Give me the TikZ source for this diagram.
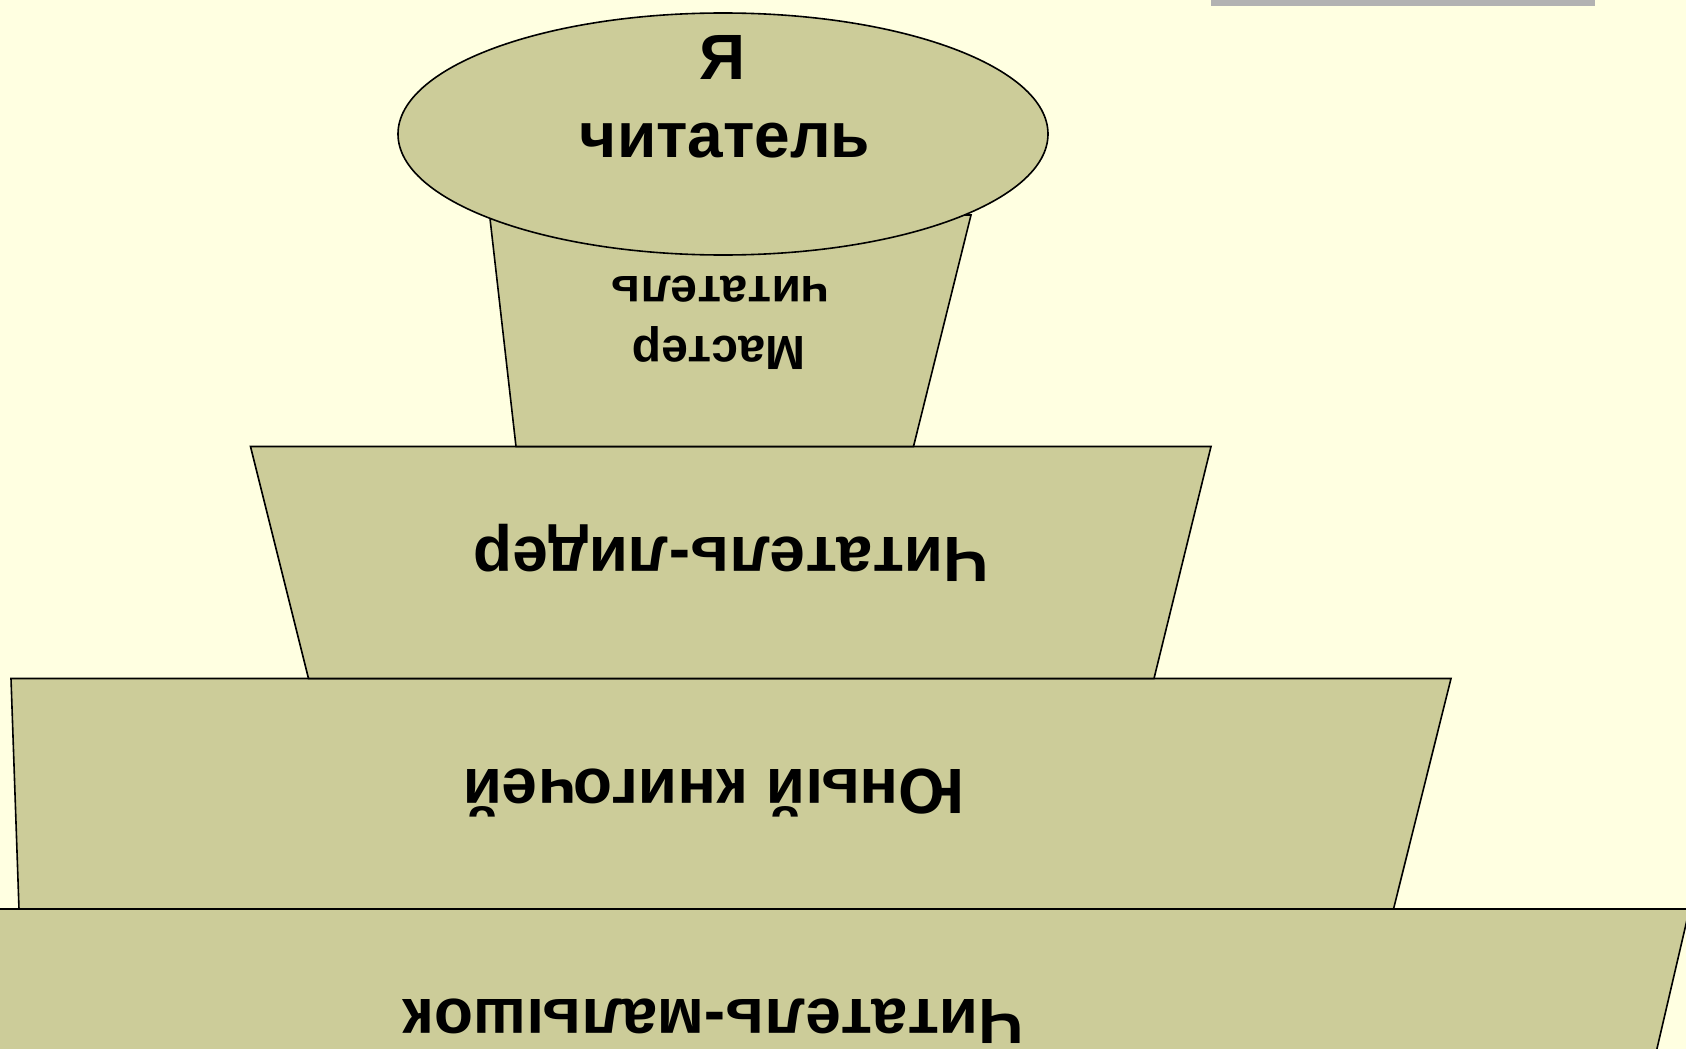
\documentclass[tikz,border=0pt]{standalone}
\usepackage{fontspec}
\setmainfont{Liberation Sans}
\definecolor{bgyellow}{RGB}{255,255,225}
\definecolor{olivefill}{RGB}{204,204,153}
\definecolor{bargray}{RGB}{178,178,178}
\begin{document}
\begin{tikzpicture}[x=1pt,y=-1pt,
  level/.style={fill=olivefill, draw=black, line width=1.6pt, line join=miter},
  lbl/.style={font=\fontsize{64}{64}\selectfont\bfseries, inner sep=0pt, anchor=base},
  lblsmall/.style={font=\fontsize{48}{48}\selectfont\bfseries, inner sep=0pt, anchor=base},
  flip/.style={lbl, rotate=180},
  flipsmall/.style={lblsmall, rotate=180}]
\useasboundingbox (0,0) rectangle (1686,1049);
\fill[bgyellow] (0,0) rectangle (1686,1049);
\clip (0,0) rectangle (1686,1049);
% grey bar at the top right
\fill[bargray] (1211,-5) rectangle (1595,6.5);
% levels, from the bottom up
\path[level] (-50,909) -- (1689.5,909) -- (1645,1100) -- (-50,1100) -- cycle;
\path[level] (11,678.5) -- (1451,678.5) -- (1393.5,909) -- (19,909) -- cycle;
\path[level] (250.5,446.5) -- (1211,446.5) -- (1154,678.5) -- (308.5,678.5) -- cycle;
\path[level] (489.6,215) -- (971,215) -- (913.5,446.5) -- (516,446.5) -- cycle;
\path[level] (723,134) ellipse [x radius=325, y radius=121];
% labels
\node[lbl] (ya) at (722.5,80) {Я};
\node[lbl] (yachit) at (725,157) {читатель};
\node[flipsmall] (mchit) at (720,276) {читатель};
\node[flipsmall] (mmaster) at (719,336) {Мастер};
\node[flip] (lider) at (731,537) {Читатель-лидер};
\node[flip] (yuny) at (714,769) {Юный книгочей};
\node[flip] (malysh) at (713,999) {Читатель-малышок};
\end{tikzpicture}
\end{document}
